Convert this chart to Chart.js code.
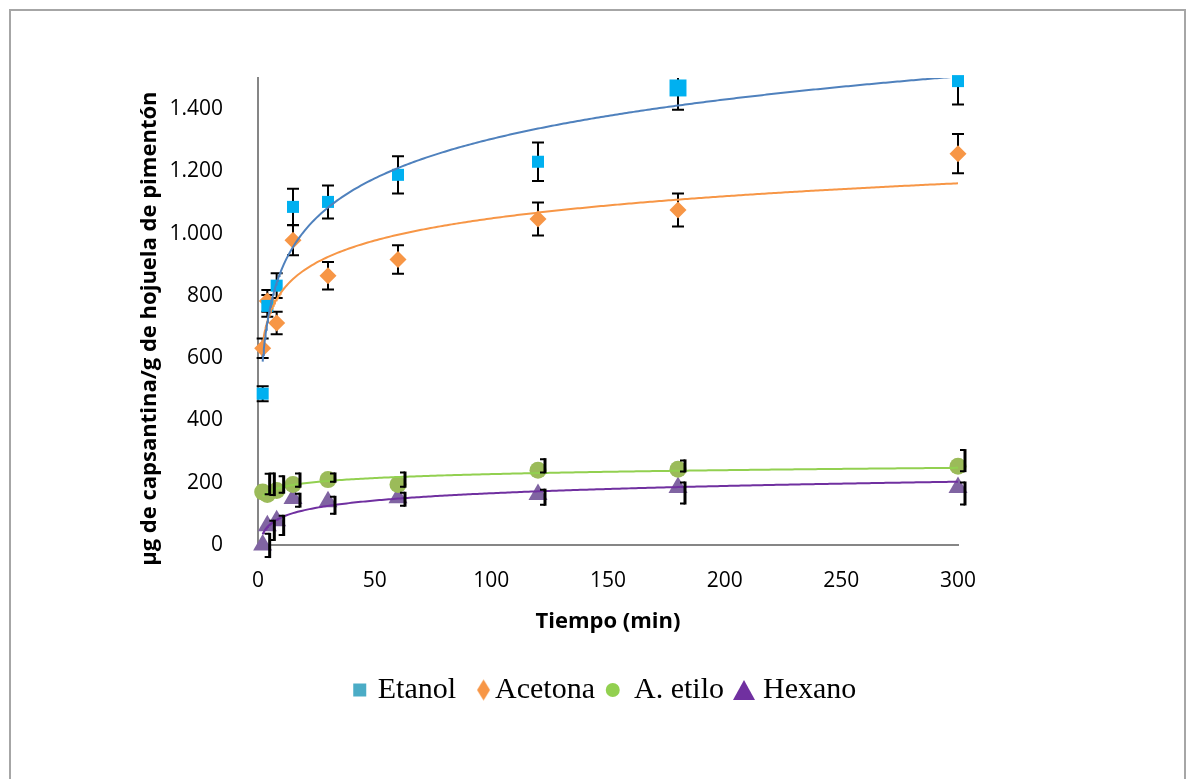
<!DOCTYPE html>
<html>
<head>
<meta charset="utf-8">
<script src="https://cdn.jsdelivr.net/npm/chart.js@4.4.1/dist/chart.umd.min.js"></script>
<style>
  html, body { margin: 0; padding: 0; background: #fff; }
  #wrap { position: relative; width: 1189px; height: 779px; overflow: hidden; }
  #frame { position: absolute; left: 9px; top: 9px; width: 1173px; height: 820px; border: 2px solid #a6a6a6; }
  #chart { position: absolute; left: 0; top: 0; }
</style>
</head>
<body>
<div id="wrap">
  <div id="frame"></div>
  <canvas id="chart" width="1189" height="779"></canvas>
</div>
<script>
// tiempo de extracción (min)
const tiempo = [2, 4, 8, 15, 30, 60, 120, 180, 300];

// µg capsantina / g hojuela
const etanol  = [486, 768, 833, 1086, 1102, 1189, 1231, 1468, 1490];
const acetona = [632, 784, 713, 979, 865, 917, 1047, 1076, 1257];
const etilo   = [170, 162, 175, 194, 210, 194, 240, 243, 253];
const hexano  = [0, 62, 78, 149, 139, 152, 162, 185, 185];

// desviaciones
const etanolErr  = [24, 35, 40, 58, 53, 60, 62, 70, 75];
const acetonaErr = [31, 35, 36, 48, 44, 46, 53, 53, 63];
const etiloErrUp   = [62, 71, 49, 39, 23, 42, 39, 32, 55];
const etiloErrDown = [10, 5, 10, 10, 10, 10, 10, 10, 19];
const hexanoErrUp   = [39, 19, 19, 19, 19, 19, 19, 19, 19];
const hexanoErrDown = [42, 49, 49, 29, 42, 29, 36, 55, 58];

const xTicks = [0, 50, 100, 150, 200, 250, 300];
const yTicks = [0, 200, 400, 600, 800, 1000, 1200, 1400];
const yTickLabels = ['0', '200', '400', '600', '800', '1.000', '1.200', '1.400'];

const tickFont = { family: '"Open Sans", sans-serif', size: 21 };
const titleFont = { family: '"Open Sans", sans-serif', size: 22, weight: 'bold' };

function pts(vals) {
  return tiempo.map((t, i) => ({ x: t, y: vals[i] }));
}

// logarithmic least-squares trend, y = a ln(t) + b
function logTrend(vals) {
  const n = tiempo.length;
  const lx = tiempo.map(Math.log);
  const mx = lx.reduce((s, v) => s + v, 0) / n;
  const my = vals.reduce((s, v) => s + v, 0) / n;
  let sxy = 0, sxx = 0;
  for (let i = 0; i < n; i++) {
    sxy += (lx[i] - mx) * (vals[i] - my);
    sxx += (lx[i] - mx) * (lx[i] - mx);
  }
  const a = sxy / sxx, b = my - a * mx;
  const out = [];
  for (let t = tiempo[0]; t <= tiempo[n - 1]; t += (t < 10 ? 0.25 : 1)) {
    out.push({ x: t, y: a * Math.log(t) + b });
  }
  return out;
}

// legend markers as little canvases, shape centred at (w/2 + dx)
function marker(shapeW, shapeH, dx, color, draw) {
  const c = document.createElement('canvas');
  c.width = Math.ceil(2 * (Math.abs(dx) + shapeW / 2) + 2);
  c.height = Math.ceil(shapeH + 2);
  const g = c.getContext('2d');
  g.fillStyle = color;
  draw(g, c.width / 2 + dx, c.height / 2, shapeW / 2, shapeH / 2);
  return c;
}
const legendMarks = [
  marker(13, 13, 7, '#4BACC6', (g, cx, cy, hw, hh) => g.fillRect(cx - hw, cy - hh, 2 * hw, 2 * hh)),
  marker(13, 21, 13.5, '#F79646', (g, cx, cy, hw, hh) => {
    g.beginPath(); g.moveTo(cx, cy - hh); g.lineTo(cx + hw, cy); g.lineTo(cx, cy + hh); g.lineTo(cx - hw, cy); g.closePath(); g.fill();
  }),
  marker(14, 14, 3.75, '#92D050', (g, cx, cy, hw) => { g.beginPath(); g.arc(cx, cy, hw, 0, Math.PI * 2); g.fill(); }),
  marker(22, 20, 6, '#7030A0', (g, cx, cy, hw, hh) => {
    g.beginPath(); g.moveTo(cx, cy - hh); g.lineTo(cx + hw, cy + hh); g.lineTo(cx - hw, cy + hh); g.closePath(); g.fill();
  })
];
const legendNames = ['Etanol', 'Acetona', 'A. etilo', 'Hexano'];

const errorBars = {
  id: 'errorBars',
  beforeDatasetsDraw(chart) {
    const { ctx, chartArea, scales: { x, y } } = chart;
    ctx.save();
    ctx.beginPath();
    ctx.rect(0, chartArea.top, chart.width, chart.height - chartArea.top);
    ctx.clip();
    ctx.strokeStyle = '#000';
    ctx.lineWidth = 2;
    [[etanol, etanolErr], [acetona, acetonaErr]].forEach(([vals, err]) => {
      vals.forEach((v, i) => {
        const px = x.getPixelForValue(tiempo[i]);
        const top = y.getPixelForValue(v + err[i]);
        const bot = y.getPixelForValue(v - err[i]);
        ctx.beginPath();
        ctx.moveTo(px, top); ctx.lineTo(px, bot);
        ctx.moveTo(px - 6, top); ctx.lineTo(px + 6, top);
        ctx.moveTo(px - 6, bot); ctx.lineTo(px + 6, bot);
        ctx.stroke();
      });
    });
    ctx.restore();
  },
  afterDatasetsDraw(chart) {
    const { ctx, scales: { x, y } } = chart;
    ctx.save();
    ctx.strokeStyle = '#000';
    [[etilo, etiloErrUp, etiloErrDown], [hexano, hexanoErrUp, hexanoErrDown]].forEach(([vals, up, down]) => {
      vals.forEach((v, i) => {
        const px = x.getPixelForValue(tiempo[i]) + 7;
        const top = y.getPixelForValue(v + up[i]);
        const bot = y.getPixelForValue(v - down[i]);
        ctx.lineWidth = 3;
        ctx.beginPath(); ctx.moveTo(px, top); ctx.lineTo(px, bot); ctx.stroke();
        ctx.lineWidth = 2;
        ctx.beginPath();
        ctx.moveTo(px - 5, top + 1); ctx.lineTo(px, top + 1);
        ctx.moveTo(px - 5, bot - 1); ctx.lineTo(px, bot - 1);
        ctx.stroke();
      });
    });
    ctx.restore();
  }
};

const trend = (vals, color) => ({
  type: 'line', data: logTrend(vals), borderColor: color, borderWidth: 2,
  pointRadius: 0, tension: 0, fill: false, order: 0
});

new Chart(document.getElementById('chart'), {
  type: 'scatter',
  data: {
    datasets: [
      { label: 'Etanol', data: pts(etanol), pointStyle: 'rect', pointRadius: [8.5, 8.5, 8.5, 8.5, 8.5, 8.5, 8.5, 12, 8.5],
        backgroundColor: '#00B0F0', borderWidth: 0, order: 1, clip: false },
      { label: 'Acetona', data: pts(acetona), pointStyle: 'rectRot', pointRadius: 8.5,
        backgroundColor: '#F79646', borderWidth: 0, order: 1, clip: false },
      { label: 'A. etilo', data: pts(etilo), pointStyle: 'circle', pointRadius: 8.5,
        backgroundColor: '#9BBB59', borderWidth: 0, order: 1, clip: false },
      { label: 'Hexano', data: pts(hexano), pointStyle: 'triangle', pointRadius: 11,
        backgroundColor: '#8064A2', borderWidth: 0, order: 1, clip: false },
      trend(etanol, '#4F81BD'),
      trend(acetona, '#F79646'),
      trend(etilo, '#92D050'),
      trend(hexano, '#7030A0')
    ]
  },
  options: {
    responsive: false,
    animation: false,
    layout: { padding: { left: 10, right: 0, top: 78, bottom: 64 } },
    scales: {
      x: {
        type: 'linear', min: 0, max: 300,
        afterBuildTicks: s => { s.ticks = xTicks.map(v => ({ value: v })); },
        afterFit: s => { s.height = 126; },
        grid: { display: false, drawTicks: false },
        border: { color: '#868686', width: 2 },
        ticks: { padding: 23, color: '#000', font: tickFont, maxRotation: 0 },
        title: { display: true, text: 'Tiempo (min)', color: '#000', font: titleFont, padding: { bottom: 36 } }
      },
      y: {
        type: 'linear', min: 0, max: 1500,
        afterBuildTicks: s => { s.ticks = yTicks.map(v => ({ value: v })); },
        afterFit: s => { s.width = 248; },
        grid: { display: false, drawTicks: false },
        border: { color: '#868686', width: 2 },
        ticks: { padding: 35, color: '#000', font: tickFont, callback: (v, i) => yTickLabels[i] },
        title: {
          display: true,
          // trailing spaces push the rotated title down along the axis
          text: 'µg de capsantina/g de hojuela de pimentón      ',
          color: '#000', font: titleFont, padding: { top: 127 }
        }
      },
      side: {
        type: 'linear', position: 'right',
        afterFit: s => { s.width = 231; },
        grid: { display: false, drawTicks: false },
        border: { display: false },
        ticks: { display: false }
      }
    },
    plugins: {
      tooltip: { enabled: false },
      legend: {
        position: 'bottom',
        labels: {
          usePointStyle: true,
          pointStyleWidth: 20,
          padding: 4,
          color: '#000',
          font: { family: '"Liberation Serif", "Times New Roman", serif', size: 30 },
          generateLabels: () => legendNames.map((name, i) => ({
            text: name, pointStyle: legendMarks[i], fillStyle: 'transparent',
            strokeStyle: 'transparent', lineWidth: 0, hidden: false, datasetIndex: i, fontColor: '#000'
          }))
        }
      }
    }
  },
  plugins: [errorBars]
});
</script>
</body>
</html>
